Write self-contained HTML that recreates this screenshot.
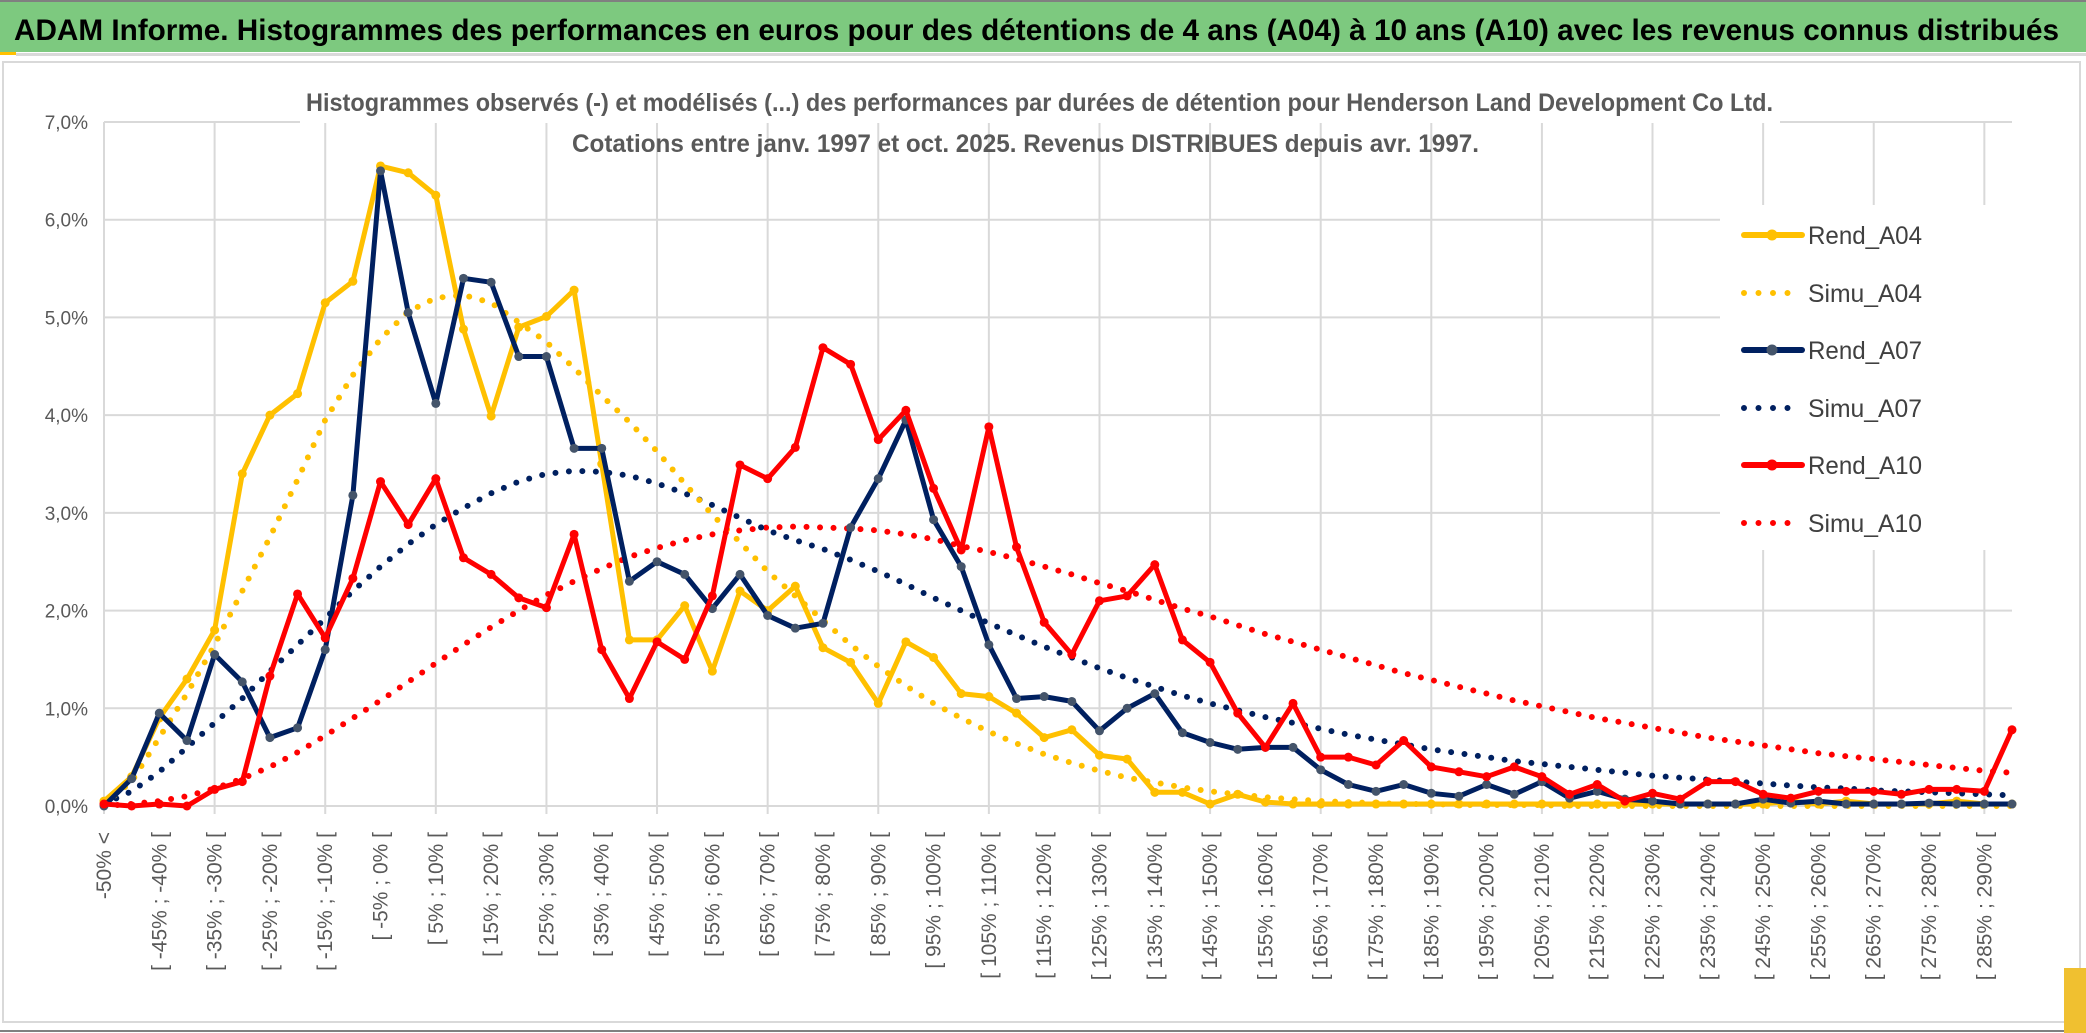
<!DOCTYPE html>
<html><head><meta charset="utf-8"><title>ADAM Informe - Henderson Land</title>
<style>
html,body{margin:0;padding:0;background:#fff;}
svg{display:block;font-family:"Liberation Sans",sans-serif;}
</style></head>
<body>
<svg id="chart" width="2086" height="1033" viewBox="0 0 2086 1033" xmlns="http://www.w3.org/2000/svg">
  <rect x="0" y="0" width="2086" height="1033" fill="#fff"/>
  <rect x="0" y="2" width="2086" height="50" fill="#7dc97f"/>
  <rect x="0" y="0" width="2086" height="2" fill="#808080"/>
  <rect x="0" y="52" width="16" height="3" fill="#ffc000"/>
  <rect x="16" y="53" width="2070" height="3" fill="#d9d9d9"/>
  <text x="14" y="40" font-size="30" font-weight="bold" fill="#000" textLength="2045" lengthAdjust="spacingAndGlyphs">ADAM Informe. Histogrammes des performances en euros pour des détentions de 4 ans (A04) à 10 ans (A10) avec les revenus connus distribués</text>
  <rect x="3" y="62" width="2077" height="960" fill="none" stroke="#d9d9d9" stroke-width="2"/>
  <line x1="0" y1="1031" x2="2086" y2="1031" stroke="#808080" stroke-width="2"/>
  <rect x="2064" y="968" width="22" height="65" fill="#f0c030"/>
  <g id="grid"></g>
  <g id="ylabels"></g>
  <g id="xlabels"></g>
  <g id="series"></g>
  <rect x="300" y="78" width="1480" height="45" fill="#fff"/>
  <text x="306" y="111" font-size="25" font-weight="bold" fill="#595959" textLength="1467" lengthAdjust="spacingAndGlyphs">Histogrammes observés (-) et modélisés (...) des performances par durées de détention pour Henderson Land Development Co Ltd.</text>
  <text x="572" y="152" font-size="25" font-weight="bold" fill="#595959" textLength="907" lengthAdjust="spacingAndGlyphs">Cotations entre janv. 1997 et oct. 2025. Revenus DISTRIBUES depuis avr. 1997.</text>
  <g id="legend"></g>
</svg>
<script>
const categories = [];
const catLow = [-50,-45,-40,-35,-30,-25,-20,-15,-10,-5,0,5,10,15,20,25,20,35,40,45,50,55,60,65,70,75,80,85,90,95,100,105,110,115,120,125,130,135,140,145,150,155,160,165,170,175,180,185,190,195,200,205,210,215,220,225,230,235,240,245,250,255,260,265,270,275,280,285,290];
const yTicks = [0,1,2,3,4,5,6,7];
const yTickLabels = ["0,0%","1,0%","2,0%","3,0%","4,0%","5,0%","6,0%","7,0%"];
const rendA04 = [0.05,0.3,0.9,1.3,1.8,3.4,4.0,4.22,5.15,5.37,6.55,6.48,6.25,4.88,3.99,4.9,5.01,5.28,3.5,1.7,1.7,2.05,1.38,2.2,2.0,2.25,1.62,1.47,1.05,1.68,1.52,1.15,1.12,0.95,0.7,0.78,0.52,0.48,0.14,0.14,0.02,0.12,0.04,0.02,0.02,0.02,0.02,0.02,0.02,0.02,0.02,0.02,0.02,0.02,0.02,0.02,0.02,0.02,0.02,0.02,0.02,0.05,0.02,0.05,0.02,0.02,0.02,0.05,0.02,0.02];
const simuA04 = [0.02,0.25,0.7,1.15,1.65,2.2,2.75,3.34,3.95,4.41,4.78,5.06,5.2,5.23,5.15,4.95,4.75,4.48,4.2,3.93,3.63,3.3,2.98,2.7,2.4,2.15,1.9,1.65,1.43,1.23,1.05,0.9,0.76,0.64,0.53,0.44,0.36,0.29,0.24,0.19,0.15,0.12,0.09,0.07,0.05,0.04,0.03,0.02,0.02,0.01,0.01,0.01,0.01,0,0,0,0,0,0,0,0,0,0,0,0,0,0,0,0,0];
const rendA07 = [0,0.28,0.95,0.67,1.55,1.27,0.7,0.8,1.6,3.18,6.5,5.05,4.12,5.4,5.36,4.6,4.6,3.66,3.66,2.3,2.5,2.37,2.02,2.37,1.95,1.82,1.87,2.85,3.35,3.95,2.93,2.45,1.65,1.1,1.12,1.07,0.77,1.0,1.15,0.75,0.65,0.58,0.6,0.6,0.37,0.22,0.15,0.22,0.13,0.1,0.22,0.12,0.25,0.08,0.15,0.07,0.05,0.02,0.02,0.02,0.07,0.03,0.05,0.02,0.02,0.02,0.03,0.02,0.02,0.02];
const simuA07 = [0.02,0.15,0.35,0.6,0.85,1.1,1.38,1.65,1.92,2.2,2.45,2.68,2.88,3.05,3.2,3.32,3.4,3.43,3.42,3.38,3.3,3.2,3.08,2.95,2.82,2.72,2.63,2.52,2.4,2.27,2.13,2.0,1.87,1.75,1.63,1.52,1.41,1.31,1.22,1.13,1.05,0.98,0.91,0.85,0.79,0.73,0.68,0.63,0.58,0.54,0.5,0.46,0.43,0.4,0.37,0.34,0.31,0.29,0.27,0.25,0.23,0.21,0.19,0.18,0.16,0.15,0.14,0.13,0.12,0.11];
const rendA10 = [0.02,0.0,0.02,0.0,0.17,0.25,1.33,2.17,1.72,2.33,3.32,2.88,3.35,2.54,2.37,2.13,2.03,2.78,1.6,1.1,1.68,1.5,2.15,3.49,3.35,3.67,4.69,4.52,3.75,4.05,3.25,2.62,3.88,2.65,1.88,1.55,2.1,2.15,2.47,1.7,1.47,0.95,0.6,1.05,0.5,0.5,0.42,0.67,0.4,0.35,0.3,0.4,0.3,0.12,0.22,0.05,0.13,0.07,0.25,0.25,0.12,0.08,0.15,0.15,0.15,0.12,0.17,0.17,0.15,0.78];
const simuA10 = [0.0,0.02,0.05,0.1,0.18,0.28,0.4,0.55,0.72,0.9,1.08,1.27,1.46,1.65,1.83,2.0,2.16,2.3,2.43,2.55,2.64,2.72,2.78,2.82,2.85,2.86,2.85,2.84,2.82,2.78,2.73,2.66,2.6,2.53,2.45,2.37,2.28,2.2,2.11,2.02,1.94,1.85,1.76,1.68,1.6,1.52,1.44,1.36,1.29,1.22,1.15,1.08,1.02,0.96,0.9,0.85,0.8,0.75,0.7,0.66,0.62,0.58,0.54,0.51,0.48,0.45,0.42,0.39,0.36,0.34];

categories.push("-50% <");
for (let k = -50; k < 295; k += 5) { if (categories.length >= rendA04.length) break; }
for (let i = 1; i < rendA04.length; i++) { const lo = -50 + (i - 1) * 5; categories.push("[ " + lo + "% ; " + (lo + 5) + "% ["); }

const NS = "http://www.w3.org/2000/svg";
const X0 = 104, X1 = 2012, Y0 = 806, YTOP = 122, YMAX = 7;
const n = categories.length;
function xScale(i){ return X0 + i * (X1 - X0) / (n - 1); }
function yScale(v){ return Y0 - v * (Y0 - YTOP) / YMAX; }
function mk(tag, attrs, parent){ const e = document.createElementNS(NS, tag); for (const k in attrs) e.setAttribute(k, attrs[k]); parent.appendChild(e); return e; }

const grid = document.getElementById('grid');
yTicks.forEach((t, j) => {
  const l = mk('line', {x1: X0, x2: X1, y1: yScale(t), y2: yScale(t), stroke: '#d9d9d9', 'stroke-width': 2}, grid);
  
  
  const tx = mk('text', {x: 88, y: yScale(t) + 7, 'text-anchor': 'end', 'font-size': 19, fill: '#595959'}, document.getElementById('ylabels'));
  tx.textContent = yTickLabels[j];
  
  
});
for (let i = 0; i < n; i += 4) {
  const l = mk('line', {x1: xScale(i), x2: xScale(i), y1: YTOP, y2: Y0 + 8, stroke: '#d9d9d9', 'stroke-width': 2}, grid);
  
  
}
const xl = document.getElementById('xlabels');
for (let i = 0; i < n; i += 2) {
  const x = xScale(i) + 7, y = 832;
  const t = mk('text', {x: x, y: y, 'text-anchor': 'end', 'font-size': 21, fill: '#595959', transform: 'rotate(-90 ' + x + ' ' + y + ')'}, xl);
  t.textContent = categories[i];
  
  
}

const seriesDefs = [
  {name: 'Simu_A10', data: simuA10, color: '#ff0000', dotted: true},
  {name: 'Simu_A07', data: simuA07, color: '#002060', dotted: true},
  {name: 'Simu_A04', data: simuA04, color: '#ffc000', dotted: true},
  {name: 'Rend_A04', data: rendA04, color: '#ffc000', marker: '#ffc000'},
  {name: 'Rend_A07', data: rendA07, color: '#002060', marker: '#44546a'},
  {name: 'Rend_A10', data: rendA10, color: '#ff0000', marker: '#ff0000'}
];
const sg = document.getElementById('series');
seriesDefs.forEach(s => {
  const g = mk('g', {}, sg);
  
  
  const pts = s.data.map((v, i) => xScale(i).toFixed(1) + ',' + yScale(v).toFixed(1)).join(' ');
  const attrs = {points: pts, fill: 'none', stroke: s.color, 'stroke-linejoin': 'round', 'stroke-linecap': 'round'};
  if (s.dotted) { attrs['stroke-width'] = 6; attrs['stroke-dasharray'] = '0 13.5'; }
  else attrs['stroke-width'] = 5;
  const pl = mk('polyline', attrs, g);
  
  
  if (!s.dotted) {
    s.data.forEach((v, i) => {
      const c = mk('circle', {cx: xScale(i), cy: yScale(v), r: 4.5, fill: s.marker}, g);
      
      
    });
  }
});

const leg = document.getElementById('legend');
const lb = mk('rect', {x: 1720, y: 205, width: 320, height: 345, fill: '#fff'}, leg);


const legendOrder = ['Rend_A04','Simu_A04','Rend_A07','Simu_A07','Rend_A10','Simu_A10'];
const legendY = [235, 293, 350, 408, 465, 523];
legendOrder.forEach((nm, k) => {
  const s = seriesDefs.find(d => d.name === nm);
  const g = mk('g', {}, leg);
  
  
  const y = legendY[k];
  if (s.dotted) {
    mk('line', {x1: 1744, x2: 1800, y1: y, y2: y, stroke: s.color, 'stroke-width': 6, 'stroke-linecap': 'round', 'stroke-dasharray': '0 14.5'}, g);
  } else {
    mk('line', {x1: 1744, x2: 1802, y1: y, y2: y, stroke: s.color, 'stroke-width': 6, 'stroke-linecap': 'round'}, g);
    mk('circle', {cx: 1772, cy: y, r: 5.5, fill: s.marker}, g);
  }
  const t = mk('text', {x: 1808, y: y + 9, 'font-size': 25, fill: '#404040', textLength: 114, lengthAdjust: 'spacingAndGlyphs'}, g);
  t.textContent = nm;
});
</script>
</body></html>
